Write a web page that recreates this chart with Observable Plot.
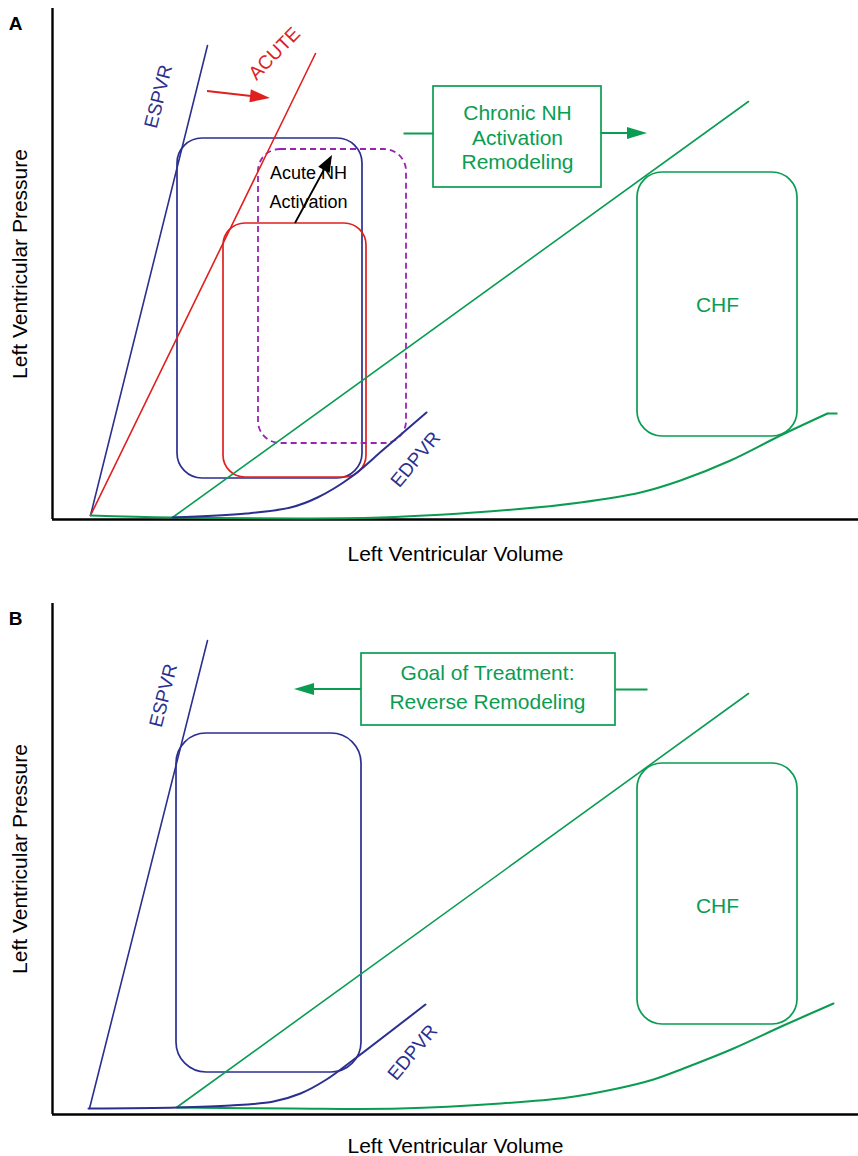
<!DOCTYPE html>
<html><head><meta charset="utf-8">
<script src="https://cdn.jsdelivr.net/npm/d3@7"></script>
<script src="https://cdn.jsdelivr.net/npm/@observablehq/plot@0.6"></script>
<style>
body{margin:0;background:#fff;}
#chart{width:858px;}
#chart svg{display:block;}
</style></head><body><div id="chart"></div>
<script>
// ---- Panel A data (volume v, pressure p in arbitrary units) ----
const espvrA   = [{v:38,p:4},{v:155,p:474}];
const acuteA   = [{v:38,p:4},{v:263,p:466}];
const espvrChfA= [{v:120,p:2},{v:696,p:418}];
const edpvrA   = [{v:120,p:2},{v:194,p:6},{v:238,p:12},{v:265,p:22},{v:298,p:42},{v:331,p:70},{v:374,p:107}];
const edpvrChfA= [{v:38,p:4},{v:120,p:2},{v:328,p:2},{v:461,p:10},{v:528,p:17},{v:588,p:27},{v:628,p:39},{v:678,p:59},{v:728,p:84},{v:775,p:106}];
const edpvrChfTailA = [{v1:775,p1:106,v2:785,p2:106}];
const loopNormalA = [{v1:125,v2:310,p1:41,p2:381}];
const loopAcuteA  = [{v1:171,v2:314,p1:42,p2:296}];
const loopNHA     = [{v1:206,v2:354,p1:76,p2:370}];
const loopChfA    = [{v1:585,v2:745,p1:83,p2:347}];
const boxChronicA = [{v1:381,v2:549,p1:332,p2:433}];
const redArrowA   = [{v1:155,p1:428,v2:218,p2:421}];
const blackArrowA = [{v1:243,p1:296,v2:280,p2:364}];
const greenLineA  = [{v1:351,p1:386,v2:381,p2:386}];
const greenArrowA = [{v1:549,p1:386,v2:595,p2:386}];
const navyLabelsA = [{v:106,p:423,t:"ESPVR",r:-76},{v:363,p:60,t:"EDPVR",r:-50}];
const redLabelsA  = [{v:222,p:466,t:"ACUTE",r:-46}];
const blackLabelsA= [{v:256,p:346,t:"Acute NH"},{v:256,p:317,t:"Activation"}];
const greenLabelsA= [{v:465,p:406,t:"Chronic NH"},{v:465,p:381,t:"Activation"},{v:465,p:357,t:"Remodeling"}];
const chfLabelA   = [{v:665,p:214,t:"CHF"}];

// ---- Panel B data ----
const espvrB   = [{v:37,p:6},{v:155,p:474}];
const edpvrB   = [{v:36,p:6},{v:125,p:7},{v:178,p:9},{v:221,p:13},{v:248,p:21},{v:274,p:35},{v:300,p:54},{v:373,p:110}];
const espvrChfB= [{v:124,p:7},{v:696,p:421}];
const edpvrChfB= [{v:125,p:7},{v:240,p:6},{v:348,p:6},{v:448,p:11},{v:515,p:17},{v:565,p:26},{v:601,p:35},{v:631,p:46},{v:681,p:66},{v:731,p:89},{v:781,p:111}];
const loopNormalB = [{v1:124,v2:309,p1:42,p2:381}];
const loopChfB    = [{v1:585,v2:745,p1:90,p2:351}];
const boxGoalB    = [{v1:309,v2:563,p1:389,p2:461}];
const greenLineB  = [{v1:595,p1:425,v2:563,p2:425}];
const greenArrowB = [{v1:309,p1:425,v2:242,p2:425}];
const navyLabelsB = [{v:111,p:419,t:"ESPVR",r:-76},{v:360,p:62,t:"EDPVR",r:-50}];
const greenLabelsB= [{v:435,p:441,t:"Goal of Treatment:"},{v:435,p:412,t:"Reverse Remodeling"}];
const chfLabelB   = [{v:665,p:208,t:"CHF"}];

const panelLetters = ["A","B"];
const xLabel = "Left Ventricular Volume";
const yLabel = "Left Ventricular Pressure";

const NAVY="#2b2f8f", RED="#e0201f", GREEN="#0a9d52", PURPLE="#9b22b3";
const FONT = "'Liberation Sans', Arial, Helvetica, sans-serif";

function arrows(data, color, headLen, headW, sw) {
  return (index, scales) => {
    const g = d3.create("svg:g");
    for (const d of data) {
      const x1 = scales.x(d.v1), y1 = scales.y(d.p1), x2 = scales.x(d.v2), y2 = scales.y(d.p2);
      const dx = x2 - x1, dy = y2 - y1, L = Math.hypot(dx, dy), ux = dx / L, uy = dy / L;
      const bx = x2 - ux * headLen, by = y2 - uy * headLen;
      g.append("line").attr("x1", x1).attr("y1", y1).attr("x2", bx + ux).attr("y2", by + uy)
        .attr("stroke", color).attr("stroke-width", sw);
      g.append("polygon")
        .attr("points", `${x2},${y2} ${bx - uy * headW / 2},${by + ux * headW / 2} ${bx + uy * headW / 2},${by - ux * headW / 2}`)
        .attr("fill", color);
    }
    return g.node();
  };
}

const line = (data, color, curve="linear", sw=1.6) =>
  Plot.line(data, {x:"v", y:"p", stroke:color, strokeWidth:sw, curve});
const box = (data, color, rx, extra={}) =>
  Plot.rect(data, {x1:"v1", x2:"v2", y1:"p1", y2:"p2", rx, ry:rx, fill:"none", stroke:color, strokeWidth:1.7, ...extra});
const seg = (data, color, sw=2) =>
  Plot.link(data, {x1:"v1", y1:"p1", x2:"v2", y2:"p2", stroke:color, strokeWidth:sw});
const labels = (data, color, size, rot=0) =>
  Plot.text(data, {x:"v", y:"p", text:"t", fill:color, fontSize:size, rotate: rot === null ? "r" : rot,
    textAnchor:"middle", lineAnchor:"middle"});

function frame(letter, xDy) {
  return [
    Plot.ruleX([0], {y1:0, y2:511, stroke:"#000", strokeWidth:2.4}),
    Plot.ruleY([0], {x1:0, x2:806, stroke:"#000", strokeWidth:2.4}),
    Plot.text([letter], {text:d=>d, frameAnchor:"top-left", dx:-37, dy:15, fontWeight:"bold", fontSize:19,
      fill:"#000", textAnchor:"middle", lineAnchor:"middle"}),
    Plot.text([xLabel], {text:d=>d, frameAnchor:"bottom", dy:xDy, fontSize:21, fill:"#000",
      textAnchor:"middle", lineAnchor:"middle"}),
    Plot.text([yLabel], {text:d=>d, frameAnchor:"left", dx:-32, rotate:-90, fontSize:21, fill:"#000",
      textAnchor:"middle", lineAnchor:"middle"})
  ];
}

function panel(height, mt, mb, marks) {
  return Plot.plot({
    width: 858, height, marginLeft: 52, marginRight: 0, marginTop: mt, marginBottom: mb,
    x: {domain: [0, 806], axis: null},
    y: {domain: [0, 511], axis: null},
    style: {fontFamily: FONT, background: "white", overflow: "visible"},
    marks
  });
}

const svgA = panel(585, 8, 66, [
  ...frame(panelLetters[0], 35),
  box(loopNormalA, NAVY, 25),
  box(loopAcuteA, RED, 22),
  box(loopNHA, PURPLE, 22, {strokeDasharray:"6,4", strokeWidth:1.8}),
  box(loopChfA, GREEN, 25),
  box(boxChronicA, GREEN, 0),
  line(espvrA, NAVY),
  line(acuteA, RED),
  line(espvrChfA, GREEN),
  line(edpvrChfA, GREEN, "catmull-rom", 2),
  seg(edpvrChfTailA, GREEN, 2),
  line(edpvrA, NAVY, "catmull-rom", 2),
  seg(greenLineA, GREEN, 2),
  arrows(redArrowA, RED, 20, 13, 2),
  arrows(blackArrowA, "#000", 17, 13, 1.8),
  arrows(greenArrowA, GREEN, 20, 12, 2),
  labels(navyLabelsA, NAVY, 19, null),
  labels(redLabelsA, RED, 19, null),
  labels(blackLabelsA, "#000", 18),
  labels(greenLabelsA, GREEN, 21),
  labels(chfLabelA, GREEN, 21)
]);

const svgB = panel(571, 18, 42, [
  ...frame(panelLetters[1], 32),
  box(loopNormalB, NAVY, 30),
  box(loopChfB, GREEN, 25),
  box(boxGoalB, GREEN, 0),
  line(espvrB, NAVY),
  line(espvrChfB, GREEN),
  line(edpvrChfB, GREEN, "catmull-rom", 2),
  line(edpvrB, NAVY, "catmull-rom", 2),
  seg(greenLineB, GREEN, 2),
  arrows(greenArrowB, GREEN, 20, 12, 2),
  labels(navyLabelsB, NAVY, 19, null),
  labels(greenLabelsB, GREEN, 21),
  labels(chfLabelB, GREEN, 21)
]);

document.getElementById("chart").append(svgA, svgB);
</script></body></html>
